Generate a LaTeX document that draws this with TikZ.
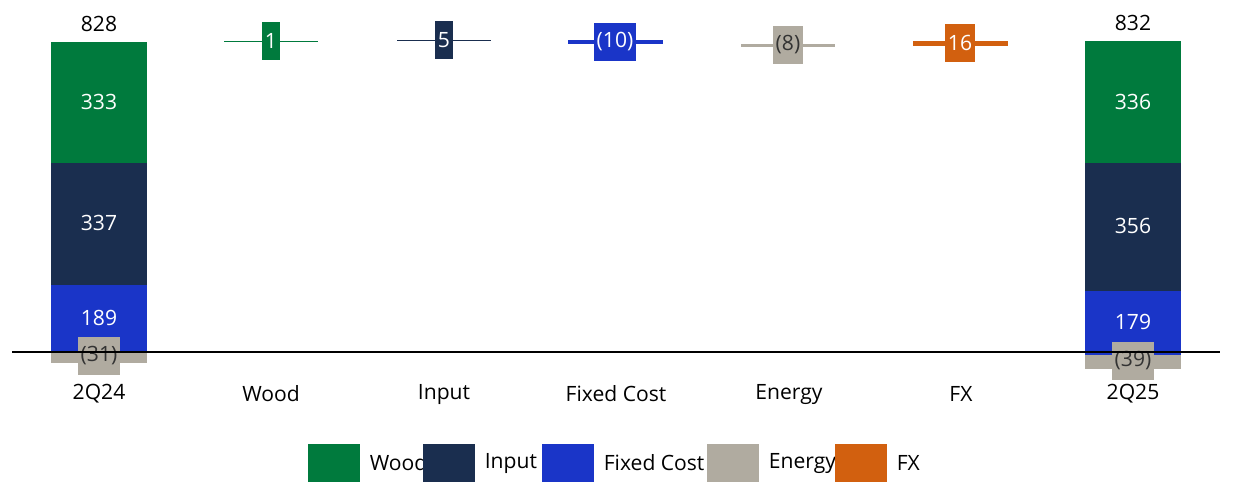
\documentclass[tikz,border=0pt]{standalone}
\usepackage{fontspec}
\setmainfont{Open Sans}
\usetikzlibrary{positioning}
\definecolor{woodc}{HTML}{007A3D}
\definecolor{inputc}{HTML}{1A2E4F}
\definecolor{fixedc}{HTML}{1A35C8}
\definecolor{energyc}{HTML}{B0ABA0}
\definecolor{fxc}{HTML}{D2600F}
\tikzset{
  seg/.style={draw=none, fill=#1},
  val/.style={text=white, font=\large},
  tag/.style={fill=#1, text=white, font=\large, inner sep=1.5pt, minimum height=22},
  cat/.style={font=\large, anchor=center},
  key/.style={fill=#1, minimum width=30, minimum height=22, inner sep=0pt},
  keytext/.style={font=\large, anchor=west, inner sep=2pt}
}
\begin{document}
\begin{tikzpicture}[x=0.02cm, y=-0.02cm]
\useasboundingbox (0,0) rectangle (1233,491);
% 2Q24 stack
\fill[woodc] (51,42) rectangle (147,163);
\fill[inputc] (51,163) rectangle (147,285);
\fill[fixedc] (51,285) rectangle (147,352);
\fill[energyc] (51,352) rectangle (147,363);
\node[val] (v1) at (99,102) {333};
\node[val] (v2) at (99,223) {337};
\node[val] (v3) at (99,318) {189};
\node[tag=energyc, text=black!80] (v4) at (99,356) {(31)};
\node[font=\large] (t1) at (99,24) {828};
% 2Q25 stack
\fill[woodc] (1085,41) rectangle (1181,163);
\fill[inputc] (1085,163) rectangle (1181,291);
\fill[fixedc] (1085,291) rectangle (1181,355);
\fill[energyc] (1085,355) rectangle (1181,369);
\node[val] (w1) at (1133,102) {336};
\node[val] (w2) at (1133,226) {356};
\node[val] (w3) at (1133,322) {179};
\node[tag=energyc, text=black!80] (w4) at (1133,361) {(39)};
\node[font=\large] (t2) at (1133,23) {832};
% floating bars
\fill[woodc] (224,40.5) rectangle (318,42);
\fill[inputc] (397,39.5) rectangle (491,41);
\fill[fixedc] (568,40) rectangle (663,44);
\fill[energyc] (741,43.5) rectangle (835,46.5);
\fill[fxc] (913,40.5) rectangle (1008,46);
\node[tag=woodc] (d1) at (271,41) {1};
\node[tag=inputc] (d2) at (444,40) {5};
\node[tag=fixedc] (d3) at (615,42) {(10)};
\node[tag=energyc, text=black!80] (d4) at (788,45) {(8)};
\node[tag=fxc] (d5) at (960,43) {16};
% axis
\draw[black, thick] (12,352) -- (1220,352);
% categories
\foreach \x/\t in {99/2Q24, 271/Wood, 444/Input, 616/Fixed Cost, 789/Energy, 961/FX, 1133/2Q25}
  \node[cat] at (\x,394) {\t};
% legend
\node[key=woodc] (k1) at (334,463) {};
\node[keytext, right=3pt of k1] (l1) {Wood};
\node[key=inputc] (k2) at (449,463) {};
\node[keytext, right=3pt of k2] (l2) {Input};
\node[key=fixedc] (k3) at (568,463) {};
\node[keytext, right=3pt of k3] (l3) {Fixed Cost};
\node[key=energyc] (k4) at (733,463) {};
\node[keytext, right=3pt of k4] (l4) {Energy};
\node[key=fxc] (k5) at (861,463) {};
\node[keytext, right=3pt of k5] (l5) {FX};
\end{tikzpicture}
\end{document}
